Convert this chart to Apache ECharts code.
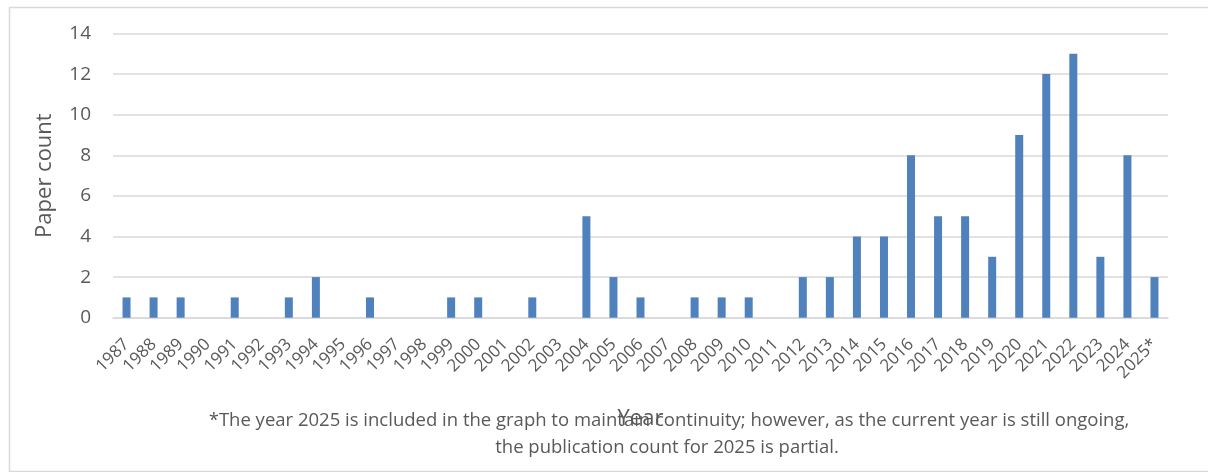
<!DOCTYPE html>
<html>
<head>
<meta charset="utf-8">
<script src="https://cdn.jsdelivr.net/npm/echarts@6/dist/echarts.min.js"></script>
<style>
html,body{margin:0;padding:0;background:#fff;}
#chart{width:1208px;height:472px;}
</style>
</head>
<body>
<div id="chart"></div>
<script>
const years = ['1987','1988','1989','1990','1991','1992','1993','1994','1995','1996','1997','1998','1999','2000','2001','2002','2003','2004','2005','2006','2007','2008','2009','2010','2011','2012','2013','2014','2015','2016','2017','2018','2019','2020','2021','2022','2023','2024','2025*'];
const paperCounts = [1,1,1,0,1,0,1,2,0,1,0,0,1,1,0,1,0,5,2,1,0,1,1,1,0,2,2,4,4,8,5,5,3,9,12,13,3,8,2];
const yTicks = {min: 0, max: 14, interval: 2};
const yAxisTitle = 'Paper count';
const xAxisTitle = 'Year';
const footnoteLines = [
  '*The year 2025 is included in the graph to maintain continuity; however, as the current year is still ongoing,',
  'the publication count for 2025 is partial.'
];

const FONT = '"Open Sans", sans-serif';
const TEXT = '#595959';
const chart = echarts.init(document.getElementById('chart'), null, {renderer: 'canvas'});
chart.setOption({
  animation: false,
  backgroundColor: '#ffffff',
  textStyle: {fontFamily: FONT},
  grid: {left: 113, right: 40, top: 33.5, bottom: 154.3, containLabel: false},
  xAxis: {
    type: 'category',
    data: years,
    name: xAxisTitle,
    nameLocation: 'middle',
    nameGap: 90,
    nameTextStyle: {fontSize: 22, color: TEXT, fontFamily: FONT},
    axisLine: {show: true, lineStyle: {color: '#d9d9d9', width: 1.5}},
    axisTick: {show: false},
    axisLabel: {interval: 0, rotate: 45, fontSize: 17, color: TEXT, fontFamily: FONT, margin: 24}
  },
  yAxis: {
    type: 'value',
    min: yTicks.min, max: yTicks.max, interval: yTicks.interval,
    name: yAxisTitle,
    nameLocation: 'middle',
    nameGap: 57,
    nameTextStyle: {fontSize: 22, color: TEXT, fontFamily: FONT},
    axisLine: {show: false},
    axisTick: {show: false},
    axisLabel: {fontSize: 19, color: TEXT, fontFamily: FONT, margin: 22},
    splitLine: {lineStyle: {color: '#d9d9d9', width: 1.5}}
  },
  series: [{
    type: 'bar',
    data: paperCounts,
    barWidth: 8,
    itemStyle: {color: '#4f81bd'}
  }],
  graphic: [
    {type: 'rect', left: 7, top: 5, shape: {x: 0, y: 0, width: 1210, height: 464}, style: {fill: 'none', stroke: '#d9d9d9', lineWidth: 1.5}, silent: true},
    {type: 'text', x: 669, y: 421, style: {text: footnoteLines[0], fontSize: 18.5, fontFamily: FONT, fill: TEXT, align: 'center', verticalAlign: 'middle'}},
    {type: 'text', x: 667, y: 448, style: {text: footnoteLines[1], fontSize: 18.5, fontFamily: FONT, fill: TEXT, align: 'center', verticalAlign: 'middle'}}
  ]
});
</script>
</body>
</html>
